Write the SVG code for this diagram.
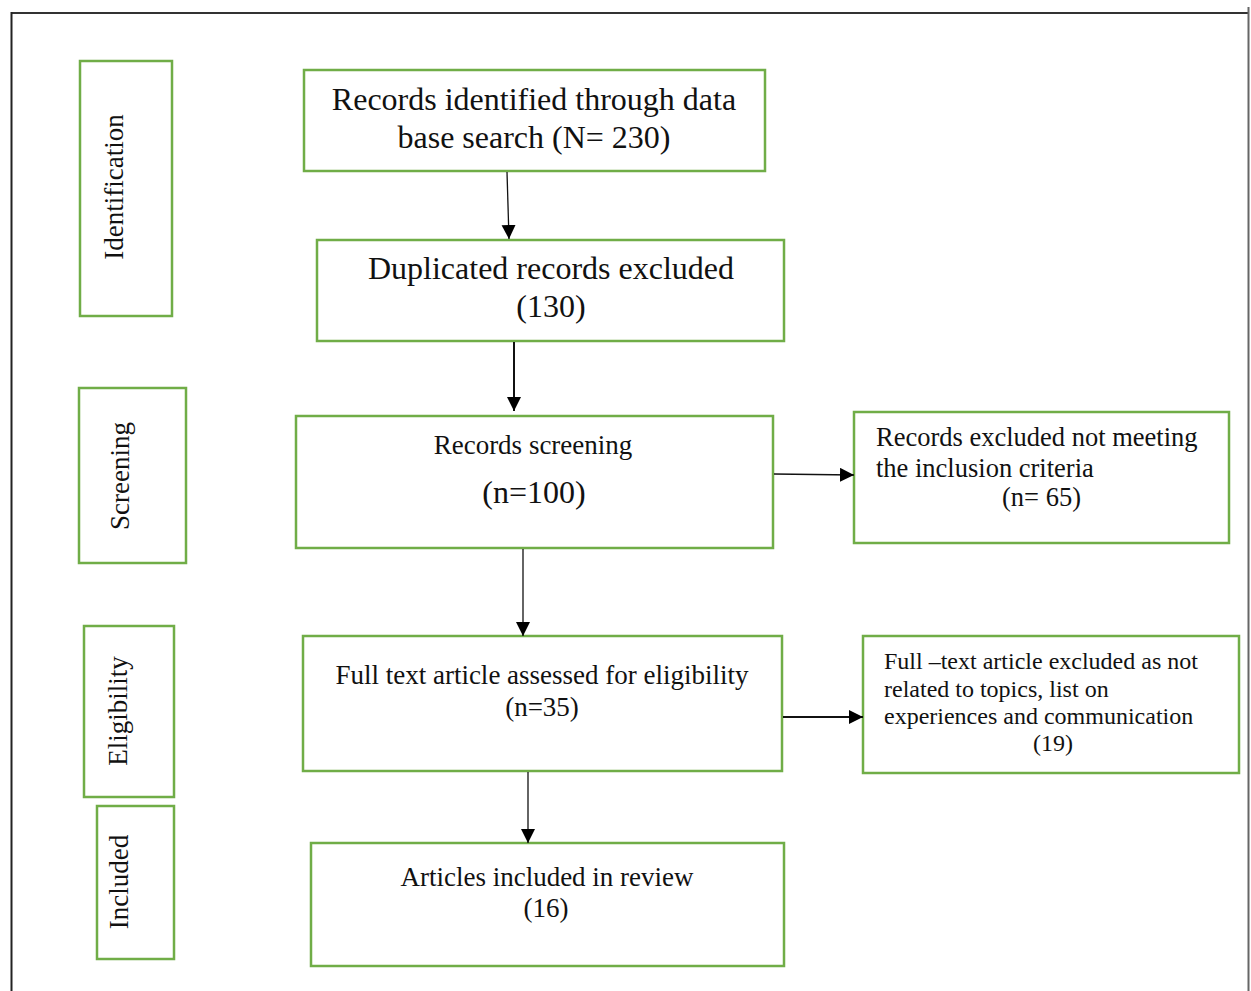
<svg xmlns="http://www.w3.org/2000/svg" width="1251" height="991" viewBox="0 0 1251 991">
<style>
.box{fill:#fff;stroke:#70AD47;stroke-width:2.5}
.t{font-family:"Liberation Serif","Times New Roman",serif;fill:#111}
.c{text-anchor:middle}
.f32{font-size:32px}
.f27{font-size:27px}
.f26{font-size:26.5px}
.f24{font-size:24px}
.ln{stroke:#111;fill:none}
</style>
<defs>
<marker id="ah" markerUnits="userSpaceOnUse" markerWidth="16" markerHeight="16" refX="14" refY="7" orient="auto">
<path d="M0,0 L14,7 L0,14 Z" fill="#000"/>
</marker>
</defs>
<rect x="0" y="0" width="1251" height="991" fill="#fff"/>
<g id="frame">
<line x1="11" y1="13" x2="1249" y2="13" stroke="#333" stroke-width="2"/>
<line x1="11.5" y1="12" x2="11.5" y2="991" stroke="#222" stroke-width="2"/>
<line x1="1248.5" y1="7" x2="1248.5" y2="991" stroke="#666" stroke-width="2"/>
</g>
<g id="label-identification">
<rect class="box" x="80" y="61" width="92" height="255"/>
<text class="t c f27" transform="translate(123,187) rotate(-90)">Identification</text>
</g>
<g id="label-screening">
<rect class="box" x="79" y="388" width="107" height="175"/>
<text class="t c f27" transform="translate(129,476) rotate(-90)">Screening</text>
</g>
<g id="label-eligibility">
<rect class="box" x="84" y="626" width="90" height="171"/>
<text class="t c f27" transform="translate(127,711) rotate(-90)">Eligibility</text>
</g>
<g id="label-included">
<rect class="box" x="97" y="806" width="77" height="153"/>
<text class="t c f27" transform="translate(128,882) rotate(-90)">Included</text>
</g>
<g id="identified">
<rect class="box" x="304" y="70" width="461" height="101"/>
<text class="t c f32" x="534" y="110">Records identified through data</text>
<text class="t c f32" x="534" y="148">base search (N= 230)</text>
</g>
<g id="duplicates">
<rect class="box" x="317" y="240" width="467" height="101"/>
<text class="t c f32" x="551" y="279">Duplicated records excluded</text>
<text class="t c f32" x="551" y="317">(130)</text>
</g>
<g id="screening">
<rect class="box" x="296" y="416" width="477" height="132"/>
<text class="t c f27" x="533" y="454">Records screening</text>
<text class="t c f32" x="534" y="503">(n=100)</text>
</g>
<g id="excluded-screening">
<rect class="box" x="854" y="412" width="375" height="131"/>
<text class="t f26" x="876" y="446">Records excluded not meeting</text>
<text class="t f26" x="876" y="477">the inclusion criteria</text>
<text class="t f26" x="1002" y="506">(n= 65)</text>
</g>
<g id="eligibility">
<rect class="box" x="303" y="636" width="479" height="135"/>
<text class="t c f27" x="542" y="684">Full text article assessed for eligibility</text>
<text class="t c f27" x="542" y="716">(n=35)</text>
</g>
<g id="excluded-fulltext">
<rect class="box" x="863" y="636" width="376" height="137"/>
<text class="t f24" x="884" y="669">Full –text article excluded as not</text>
<text class="t f24" x="884" y="697">related to topics, list on</text>
<text class="t f24" x="884" y="724">experiences and communication</text>
<text class="t f24" x="1033" y="751">(19)</text>
</g>
<g id="included">
<rect class="box" x="311" y="843" width="473" height="123"/>
<text class="t c f27" x="547" y="886">Articles included in review</text>
<text class="t c f27" x="546" y="917">(16)</text>
</g>
<g id="connectors">
<line class="ln" x1="507" y1="172" x2="509" y2="239" stroke-width="1.3" marker-end="url(#ah)"/>
<line class="ln" x1="514" y1="342" x2="514" y2="411" stroke-width="2" marker-end="url(#ah)"/>
<line class="ln" x1="523" y1="549" x2="523" y2="636" stroke-width="1.3" marker-end="url(#ah)"/>
<line class="ln" x1="528" y1="772" x2="528" y2="843" stroke-width="1.3" marker-end="url(#ah)"/>
<line class="ln" x1="774" y1="474" x2="854" y2="475" stroke-width="1.3" marker-end="url(#ah)"/>
<line class="ln" x1="783" y1="717" x2="863" y2="717" stroke-width="2" marker-end="url(#ah)"/>
</g>
</svg>
